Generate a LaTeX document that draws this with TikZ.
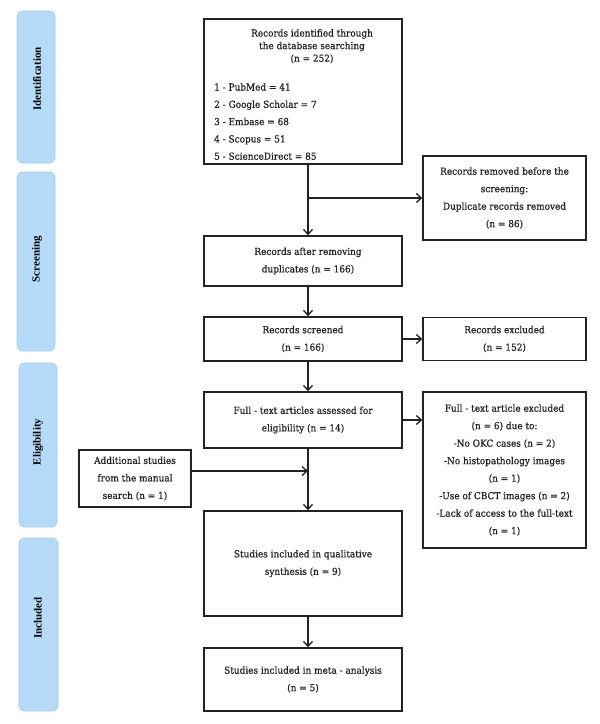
\documentclass[tikz,border=0pt]{standalone}
\usepackage{fontspec}
\setmainfont{DejaVu Serif}[FakeStretch=0.93, FakeBold=0.6]
\newfontfamily\barfont{Liberation Serif}
\usetikzlibrary{arrows.meta}
\definecolor{barfill}{HTML}{B5DBF8}
\definecolor{barline}{HTML}{9FCDF1}
\definecolor{ink}{HTML}{222222}
\begin{document}
\begin{tikzpicture}[x=1pt,y=-1pt,
  box/.style={draw=ink, line width=1.4pt, inner sep=2pt, align=center,
    font=\fontsize{9.6}{17.5}\selectfont, text=ink},
  bar/.style={draw=barline, fill=barfill, line width=0.8pt, rounded corners=6pt},
  bartext/.style={rotate=90, font=\barfont\bfseries\fontsize{11}{12}\selectfont, text=black},
  arr/.style={draw=ink, line width=1.3pt, -{Straight Barb[length=5pt,width=9pt,line width=1.3pt]}},
  ln/.style={draw=ink, line width=1.3pt}]
\useasboundingbox (0,0) rectangle (600,724);
\fill[white] (0,0) rectangle (600,724);
% side bars
\draw[bar] (17,11) rectangle (55,163);
\node[bartext] (lid) at (37,79) {Identification};
\draw[bar] (17,172) rectangle (55,351);
\node[bartext] (lscr) at (37,259) {Screening};
\draw[bar] (19,363) rectangle (57,527);
\node[bartext] (lel) at (38,442) {Eligibility};
\draw[bar] (19,538) rectangle (58,711);
\node[bartext] (linc) at (38,618) {Included};
% boxes
\node[box, minimum width=198, minimum height=145] (id) at (303,91.5) {};
\node[align=center, anchor=north, font=\fontsize{9.6}{12.6}\selectfont, text=ink, inner sep=0] (idt) at (312,29)
  {Records identified through\\the database searching\\(n = 252)};
\node[align=left, anchor=north west, font=\fontsize{9.6}{17.3}\selectfont, text=ink, inner sep=0] (idl) at (214,83)
  {1 - PubMed = 41\\2 - Google Scholar = 7\\3 - Embase = 68\\4 - Scopus = 51\\5 - ScienceDirect = 85};
\node[box, minimum width=163, minimum height=84] (rem) at (504.5,198)
  {Records removed before the\\screening:\\Duplicate records removed\\(n = 86)};
\node[box, minimum width=198, minimum height=50] (dup) at (303,261)
  {\hspace*{10pt}Records after removing\\\hspace*{10pt}duplicates (n = 166)};
\node[box, minimum width=198, minimum height=44] (scr) at (303,339)
  {Records screened\\(n = 166)};
\node[box, minimum width=163, minimum height=43] (exc) at (504.5,339)
  {Records excluded\\(n = 152)};
\node[box, minimum width=198, minimum height=56] (ft) at (303,420)
  {Full - text articles assessed for\\eligibility (n = 14)};
\node[box, minimum width=163, minimum height=156] (fte) at (504.5,470)
  {Full - text article excluded\\(n = 6) due to:\\-No OKC cases (n = 2)\\-No histopathology images\\(n = 1)\\-Use of CBCT images (n = 2)\\-Lack of access to the full-text\\(n = 1)};
\node[box, minimum width=112, minimum height=57] (add) at (135,478.5)
  {Additional studies\\from the manual\\search (n = 1)};
\node[box, minimum width=198, minimum height=105] (qual) at (303,563.5)
  {Studies included in qualitative\\synthesis (n = 9)};
\node[box, minimum width=198, minimum height=63] (meta) at (303,679.5)
  {Studies included in meta - analysis\\(n = 5)};
% connectors
\coordinate (spine) at (308,0);
\coordinate (j1) at (308,198);
\coordinate (j2) at (308,471);
\draw[arr] (id.south -| spine) -- (dup.north -| spine);
\draw[arr] (j1) -- (rem.west |- j1);
\draw[arr] (dup.south -| spine) -- (scr.north -| spine);
\draw[arr] (scr.east) -- (exc.west);
\draw[arr] (scr.south -| spine) -- (ft.north -| spine);
\draw[arr] (ft.east) -- (ft.east -| fte.west);
\draw[arr] (ft.south -| spine) -- (qual.north -| spine);
\draw[arr] (add.east |- j2) -- (j2);
\draw[arr] (qual.south -| spine) -- (meta.north -| spine);
\end{tikzpicture}
\end{document}
